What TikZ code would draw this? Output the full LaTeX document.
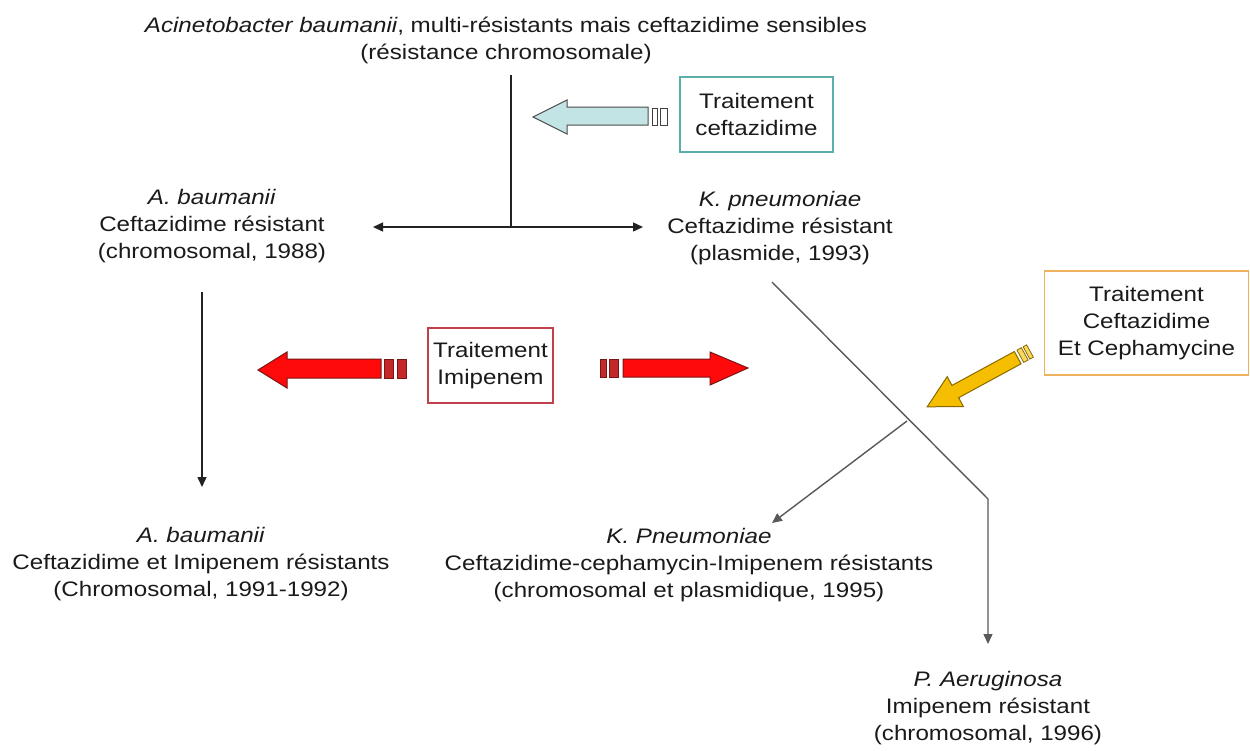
\documentclass[tikz,border=0pt]{standalone}
\usepackage{fontspec}
\setmainfont{Liberation Sans}[FakeStretch=1.15]
\usetikzlibrary{arrows.meta}
\definecolor{txt}{HTML}{1A1A1A}
\definecolor{cyanfill}{HTML}{C2E4E4}
\definecolor{cyanbox}{HTML}{5AAFA8}
\definecolor{redbox}{HTML}{C0404C}
\definecolor{redfill}{HTML}{FF0A0A}
\definecolor{reddark}{HTML}{7A1515}
\definecolor{redstripe}{HTML}{C42828}
\definecolor{yelfill}{HTML}{F5BE00}
\definecolor{yeldark}{HTML}{8A6A00}
\definecolor{yelstripe}{HTML}{F8D860}
\definecolor{orangebox}{HTML}{EFB060}
\definecolor{lin}{HTML}{222222}
\tikzset{
  lbl/.style={align=center, inner sep=0pt, text=txt, font=\fontsize{10.5}{13.5}\selectfont},
  tbox/.style={lbl, draw, line width=0.75pt, inner sep=2pt},
  conn/.style={draw=lin, line width=0.7pt},
  arr/.style={conn, -{Triangle[length=5pt,width=4.5pt]}},
  cyanarrow/.style={fill=cyanfill, draw=black!70, line width=0.5pt, line join=miter},
  redarrow/.style={fill=redfill, draw=reddark, line width=0.5pt, line join=miter},
  redstr/.style={fill=redstripe, draw=reddark, line width=0.5pt},
  yelarrow/.style={fill=yelfill, draw=yeldark, line width=0.5pt, line join=miter},
  yelstr/.style={fill=yelstripe, draw=yeldark, line width=0.4pt},
  cyanstr/.style={fill=white, draw=black!75, line width=0.5pt},
}
\begin{document}
\begin{tikzpicture}[x=0.5pt,y=-0.5pt]
\useasboundingbox[fill=white] (0,0) rectangle (1250,751);

% text nodes
\node[lbl] (top) at (506,40) {\textit{Acinetobacter baumanii}, multi-résistants mais ceftazidime sensibles\\(résistance chromosomale)};
\node[lbl] (ab1) at (212,226) {\textit{A. baumanii}\\Ceftazidime résistant\\(chromosomal, 1988)};
\node[lbl] (kp1) at (780,228) {\textit{K. pneumoniae}\\Ceftazidime résistant\\(plasmide, 1993)};
\node[lbl] (ab2) at (201,564) {\textit{A. baumanii}\\Ceftazidime et Imipenem résistants\\(Chromosomal, 1991-1992)};
\node[lbl] (kp2) at (689,565) {\textit{K. Pneumoniae}\\Ceftazidime-cephamycin-Imipenem résistants\\(chromosomal et plasmidique, 1995)};
\node[lbl] (pa) at (988,708) {\textit{P. Aeruginosa}\\Imipenem résistant\\(chromosomal, 1996)};

% boxes
\node[tbox, draw=cyanbox, minimum width=76.5pt, minimum height=37.5pt] (bc) at (756.5,114.5) {Traitement\\ceftazidime};
\node[tbox, draw=redbox, minimum width=62.5pt, minimum height=37.5pt] (bi) at (490.5,365.5) {Traitement\\Imipenem};
\node[tbox, draw=orangebox, minimum width=102pt, minimum height=52pt] (bcc) at (1146.5,323) {Traitement\\Ceftazidime\\Et Cephamycine};

% connectors
\coordinate (t0) at (511,75);
\coordinate (j1) at (511,227);
\coordinate (la) at (373,227);
\coordinate (ra) at (643,227);
\draw[conn] (t0) -- (j1);
\draw[arr] (j1) -- (la);
\draw[arr] (j1) -- (ra);

\coordinate (a1) at (202,292);
\coordinate (a2) at (202,487);
\draw[arr] (a1) -- (a2);

\coordinate (d0) at (772,282);
\coordinate (dj) at (907,421);
\coordinate (d1) at (988,499);
\coordinate (d2) at (988,644);
\coordinate (d3) at (772,523);
\draw[conn, draw=black!65, -{Triangle[length=5pt,width=4.5pt]}] (d0) -- (d1) -- (d2);
\draw[conn, draw=black!65, -{Triangle[length=5pt,width=4.5pt]}] (dj) -- (d3);

% cyan block arrow
\draw[cyanarrow] (648,107) -- (567,107) -- (567,100) -- (533,117) -- (567,134) -- (567,125) -- (648,125) -- cycle;
\draw[cyanstr] (652,108) rectangle (657,125);
\draw[cyanstr] (660,108) rectangle (667,125);

% red block arrows
\draw[redarrow] (381,359) -- (287,359) -- (287,352) -- (258,370) -- (287,388) -- (287,378) -- (381,378) -- cycle;
\draw[redstr] (384,359) rectangle (393,378);
\draw[redstr] (397,359) rectangle (406,378);

\draw[redstr] (600,359) rectangle (606,377);
\draw[redstr] (609,359) rectangle (618,377);
\draw[redarrow] (623,359) -- (710,359) -- (710,352) -- (748,368) -- (710,385) -- (710,377) -- (623,377) -- cycle;

% yellow block arrow
\begin{scope}[shift={(1030,351)}, rotate=208.5]
\draw[yelstr] (0,-7) rectangle (4,7);
\draw[yelstr] (6,-7) rectangle (11,7);
\draw[yelarrow] (14,-7) -- (85,-7) -- (85,-17) -- (117,0) -- (85,17) -- (85,7) -- (14,7) -- cycle;
\end{scope}
\end{tikzpicture}
\end{document}
